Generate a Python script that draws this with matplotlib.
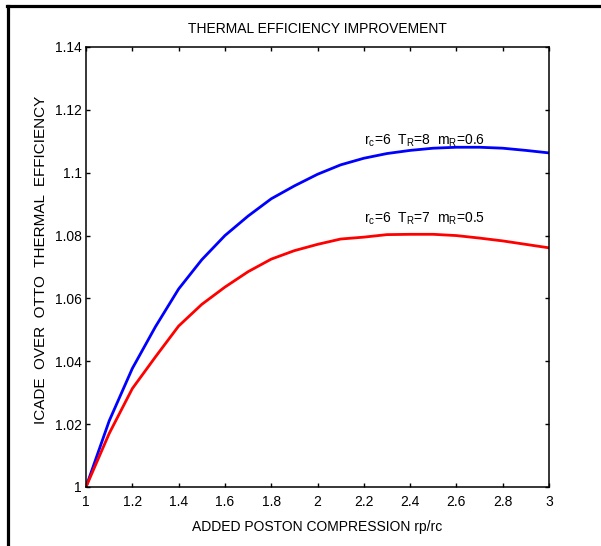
import matplotlib
matplotlib.use("Agg")
import matplotlib.pyplot as plt
from matplotlib.lines import Line2D

plt.rcParams['font.family'] = ['Liberation Sans', 'DejaVu Sans']
plt.rcParams['mathtext.fontset'] = 'custom'
plt.rcParams['mathtext.rm'] = 'Liberation Sans'
plt.rcParams['mathtext.it'] = 'Liberation Sans'

# compression ratio added by the ICADE cycle
rp_rc = [1.0, 1.1, 1.2, 1.3, 1.4, 1.5, 1.6, 1.7, 1.8, 1.9, 2.0,
         2.1, 2.2, 2.3, 2.4, 2.5, 2.6, 2.7, 2.8, 2.9, 3.0]

# efficiency ratio, rc=6 TR=8 mR=0.6
eff_tr8 = [1.000, 1.021, 1.0377, 1.051, 1.063, 1.0723, 1.080, 1.0862, 1.0917, 1.0958, 1.0995,
           1.1025, 1.1046, 1.1061, 1.1071, 1.1078, 1.1081, 1.1081, 1.1078, 1.1071, 1.1063]

# efficiency ratio, rc=6 TR=7 mR=0.5
eff_tr7 = [1.000, 1.017, 1.0313, 1.0414, 1.0512, 1.0581, 1.0636, 1.0685, 1.0725, 1.0752, 1.0772,
           1.0789, 1.0795, 1.0803, 1.0804, 1.0804, 1.0800, 1.0792, 1.0783, 1.0772, 1.0761]

curve_labels = [r'r$_{\mathrm{c}}$=6  T$_{\mathrm{R}}$=8  m$_{\mathrm{R}}$=0.6',
                r'r$_{\mathrm{c}}$=6  T$_{\mathrm{R}}$=7  m$_{\mathrm{R}}$=0.5']

xticks = [1, 1.2, 1.4, 1.6, 1.8, 2, 2.2, 2.4, 2.6, 2.8, 3]
yticks = [1, 1.02, 1.04, 1.06, 1.08, 1.1, 1.12, 1.14]

fig = plt.figure(figsize=(6.01, 5.46), dpi=100)
ax = fig.add_axes([86 / 601, 1 - 487 / 546, 463 / 601, 440 / 546])

ax.plot(rp_rc, eff_tr8, color='#0000ff', lw=2.0)
ax.plot(rp_rc, eff_tr7, color='#ff0000', lw=2.0)

ax.text(2.2, 1.1091, curve_labels[0], fontsize=10, va='baseline')
ax.text(2.2, 1.0842, curve_labels[1], fontsize=10, va='baseline')

ax.set_xlim(1, 3)
ax.set_ylim(1, 1.14)
ax.set_xticks(xticks)
ax.set_xticklabels([f'{t:g}' for t in xticks])
ax.set_yticks(yticks)
ax.set_yticklabels([f'{t:g}' for t in yticks])
ax.tick_params(direction='in', length=3, width=1, top=True, right=True,
               labelsize=10)
ax.tick_params(axis='x', pad=6)
ax.tick_params(axis='y', pad=3)
for s in ax.spines.values():
    s.set_linewidth(1.1)

ax.set_title('THERMAL EFFICIENCY IMPROVEMENT', fontsize=10, pad=10)
ax.set_xlabel('ADDED POSTON COMPRESSION rp/rc', fontsize=10, labelpad=8)
fig.text(41 / 601, 1 - 260 / 546, 'ICADE  OVER  OTTO  THERMAL  EFFICIENCY',
         fontsize=11, rotation=90, ha='center', va='center')

# page frame edges
fig.add_artist(Line2D([7.5 / 601, 7.5 / 601], [0, 1 - 5.5 / 546],
                      transform=fig.transFigure, color='black', lw=2.3))
fig.add_artist(Line2D([6.5 / 601, 1], [1 - 5.5 / 546, 1 - 5.5 / 546],
                      transform=fig.transFigure, color='black', lw=2.3))

fig.savefig('out.png', dpi=100)
